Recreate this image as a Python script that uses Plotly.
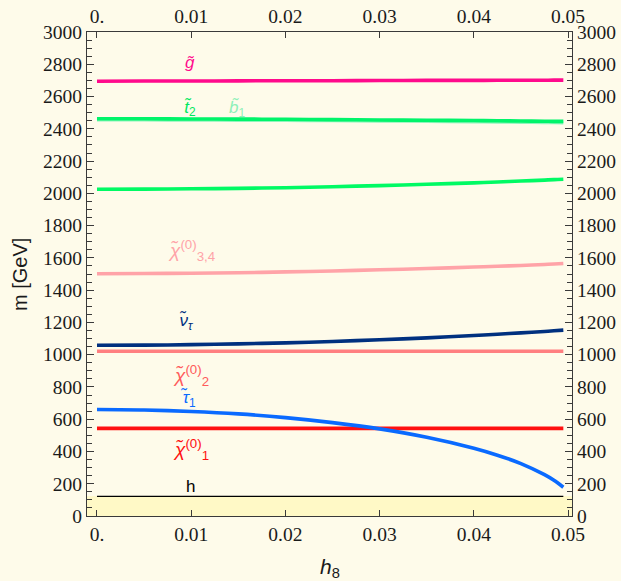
import plotly.graph_objects as go

# ---- data ----
h8 = [0, 0.005, 0.01, 0.015, 0.02, 0.025, 0.03, 0.035, 0.04, 0.0425, 0.045, 0.0475, 0.0485, 0.0495]

m_gluino = [2695, 2696, 2696, 2697, 2698, 2698, 2699, 2700, 2700, 2701, 2701, 2701, 2702, 2702]
m_stop2  = [2462, 2462, 2461, 2460, 2459, 2457, 2455, 2453, 2451, 2450, 2448, 2447, 2446, 2446]
m_sbot1  = [2456, 2456, 2455, 2454, 2453, 2451, 2449, 2447, 2444, 2443, 2441, 2440, 2439, 2438]
m_sq2000 = [2025, 2026, 2028, 2031, 2035, 2041, 2048, 2056, 2065, 2070, 2076, 2082, 2085, 2087]
m_chi34  = [1502, 1503, 1505, 1508, 1513, 1519, 1526, 1534, 1543, 1548, 1553, 1559, 1562, 1565]
m_sntau  = [1058, 1059, 1062, 1067, 1073, 1082, 1092, 1104, 1119, 1127, 1135, 1144, 1148, 1152]
m_chi2   = [1021] * len(h8)
m_stau1  = [660, 657, 648, 633, 610, 579, 540, 488, 420, 377, 325, 256, 221, 178]
m_chi1   = [543] * len(h8)
m_h      = [122] * len(h8)

x_ticks = [0, 0.01, 0.02, 0.03, 0.04, 0.05]
x_ticklabels = ["0.", "0.01", "0.02", "0.03", "0.04", "0.05"]
y_ticks = list(range(0, 3001, 200))

series = [
    ("h", m_h, "#000000", 1.3),
    ("chi2", m_chi2, "#FF7F80", 3.6),
    ("chi34", m_chi34, "#FFA3A8", 3.6),
    ("sq2000", m_sq2000, "#00FA64", 3.6),
    ("sbot1", m_sbot1, "#8EF5BC", 3.6),
    ("stop2", m_stop2, "#00F46A", 3.6),
    ("gluino", m_gluino, "#FF0A8C", 3.6),
    ("chi1", m_chi1, "#FF1010", 3.6),
    ("stau1", m_stau1, "#0A6AFF", 3.6),
    ("sntau", m_sntau, "#00307F", 3.6),
]

labels = [
    (0.0099, 2808, "<i>g̃</i>", "#FF0A8C", 17),
    (0.0099, 2527, "<i>t̃</i><sub>2</sub>", "#00E860", 17),
    (0.0149, 2527, "<i>b̃</i><sub>1</sub>", "#8EF0B8", 17),
    (0.0100, 1645, "<i>χ̃</i><sup>(0)</sup><sub>3,4</sub>", "#FFA3A8", 19),
    (0.0095, 1205, "<i>ν̃</i><sub><i>τ</i></sub>", "#00307F", 17),
    (0.0100, 872, "<i>χ̃</i><sup>(0)</sup><sub>2</sub>", "#FF5A5A", 19),
    (0.0097, 730, "<i>τ̃</i><sub>1</sub>", "#0A6AFF", 17),
    (0.0100, 414, "<i>χ̃</i><sup>(0)</sup><sub>1</sub>", "#FF1010", 19),
    (0.0099, 182, "h", "#000000", 17),
]

BG = "#FEFBEA"
BAND = "#FFF9C6"
AX = "#3A3A3A"
SERIF = "Liberation Serif"
SANS = "Liberation Sans"
xr = [-0.00106, 0.05042]
yr = [0, 3000]

fig = go.Figure()
for name, vals, col, w in series:
    fig.add_trace(go.Scatter(x=h8, y=vals, mode="lines", name=name,
                             line=dict(color=col, width=w, shape="spline", smoothing=0.8),
                             showlegend=False, hoverinfo="skip"))
# invisible trace to anchor the mirrored axes
fig.add_trace(go.Scatter(x=[0], y=[0], xaxis="x2", yaxis="y2", mode="markers",
                         marker=dict(opacity=0), showlegend=False, hoverinfo="skip"))

fig.add_shape(type="rect", xref="paper", x0=0, x1=1, yref="y", y0=0, y1=m_h[0],
              fillcolor=BAND, line=dict(width=0), layer="below")

tickfont = dict(family=SERIF, size=19.5, color="#1A1A1A")
common_x = dict(range=xr, tickmode="array", tickvals=x_ticks, ticktext=x_ticklabels,
                ticks="inside", ticklen=6, tickcolor=AX, showline=True, linecolor=AX,
                linewidth=1.3, showgrid=False, zeroline=False, tickfont=tickfont,
                automargin=False)
common_y = dict(range=yr, tickmode="array", tickvals=y_ticks, ticks="inside",
                ticklen=7, tickcolor=AX, showline=True, linecolor=AX, linewidth=1.3,
                showgrid=False, zeroline=False, tickfont=tickfont, automargin=False,
                minor=dict(dtick=50, ticks="inside", ticklen=5, tickcolor=AX, showgrid=False))

fig.update_layout(
    width=621, height=581,
    font=dict(family=SERIF, size=19.5, color="#1A1A1A"),
    margin=dict(l=87, r=49, t=32, b=65, autoexpand=False),
    paper_bgcolor=BG, plot_bgcolor=BG,
    xaxis=dict(**common_x, side="bottom"),
    xaxis2=dict(**common_x, side="top", overlaying="x", anchor="y"),
    yaxis=dict(**common_y, side="left"),
    yaxis2=dict(**common_y, side="right", overlaying="y", anchor="x"),
)

for x, y, t, c, s in labels:
    fig.add_annotation(x=x, y=y, xref="x", yref="y", text=t, showarrow=False,
                       font=dict(family=SANS, size=s, color=c))

fig.add_annotation(xref="paper", yref="paper", x=-0.138, y=0.498, text="m [GeV]",
                   textangle=-90, showarrow=False, xanchor="center", yanchor="middle",
                   font=dict(family=SANS, size=20, color="#1A1A1A"))
fig.add_annotation(xref="paper", yref="paper", x=0.501, y=-0.107, text="<i>h</i><sub>8</sub>",
                   showarrow=False, xanchor="center", yanchor="middle",
                   font=dict(family=SANS, size=21, color="#1A1A1A"))

fig.write_html("out.html", config={"displayModeBar": False},
               post_script="document.body.style.margin='0';"
                           "document.body.style.background='" + BG + "';")
